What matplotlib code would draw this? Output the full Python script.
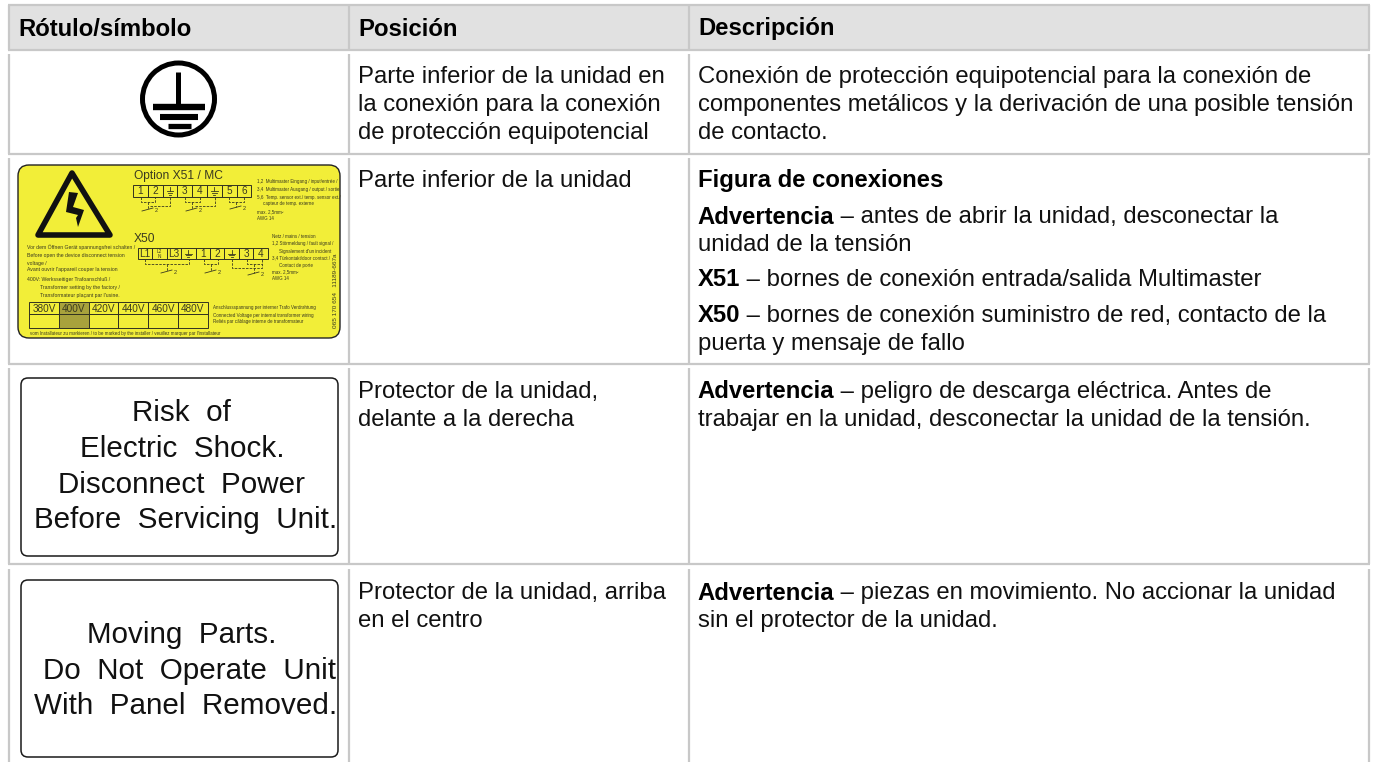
import matplotlib
matplotlib.use("Agg")
import matplotlib.pyplot as plt
from matplotlib import font_manager
from matplotlib.patches import Rectangle, FancyBboxPatch, Circle, Polygon

plt.rcParams['font.family'] = ['Liberation Sans', 'DejaVu Sans']

# table text
headers = ["Rótulo/símbolo", "Posición", "Descripción"]
column_edges = [9, 349, 689, 1369]
row_tops = [5, 54, 158, 368, 569]
row_bottoms = [50, 154, 364, 564, 762]

positions = [
    ["Parte inferior de la unidad en", "la conexión para la conexión", "de protección equipotencial"],
    ["Parte inferior de la unidad"],
    ["Protector de la unidad,", "delante a la derecha"],
    ["Protector de la unidad, arriba", "en el centro"],
]
position_y = [77, 181, 392, 593]
# (bold part, rest, y of the line)
descriptions = [
    ("", "Conexión de protección equipotencial para la conexión de", 77),
    ("", "componentes metálicos y la derivación de una posible tensión", 105),
    ("", "de contacto.", 133),
    ("Figura de conexiones", "", 181),
    ("Advertencia", " – antes de abrir la unidad, desconectar la", 217),
    ("", "unidad de la tensión", 245),
    ("X51", " – bornes de conexión entrada/salida Multimaster", 280),
    ("X50", " – bornes de conexión suministro de red, contacto de la", 316),
    ("", "puerta y mensaje de fallo", 344),
    ("Advertencia", " – peligro de descarga eléctrica. Antes de", 392),
    ("", "trabajar en la unidad, desconectar la unidad de la tensión.", 420),
    ("Advertencia", " – piezas en movimiento. No accionar la unidad", 593),
    ("", "sin el protector de la unidad.", 621),
]

label1_lines = ["Risk  of", "Electric  Shock.", "Disconnect  Power", "Before  Servicing  Unit."]
label1_x = [181, 182, 182, 186]
label1_y = [413, 449, 485, 520]
label2_lines = ["Moving  Parts.", "Do  Not  Operate  Unit", "With  Panel  Removed."]
label2_x = [182, 190, 186]
label2_y = [635, 671, 706]

voltages = ["380V", "400V", "420V", "440V", "460V", "480V"]
x51_terms = ["1", "2", "earth", "3", "4", "earth", "5", "6"]
x50_terms = ["L1", "L2\nN", "L3", "earth", "1", "2", "earth", "3", "4"]

left_notes = [(27, 247, "Vor dem Öffnen Gerät spannungsfrei schalten /"),
              (27, 255, "Before open the device disconnect tension"),
              (27, 263, "voltage /"),
              (27, 270, "Avant ouvrir l'appareil couper la tension"),
              (27, 279, "400V: Werksseitiger Trafoanschluß /"),
              (40, 287, "Transformer setting by the factory /"),
              (40, 295, "Transformateur plaçant par l'usine.")]
right_notes = [(257, 182, "1,2  Multimaster Eingang / input/entrée /"),
               (257, 189, "3,4  Multimaster Ausgang / output / sortie"),
               (257, 197, "5,6  Temp. sensor ext./ temp. sensor ext./"),
               (263, 204, "capteur de temp. externe"),
               (257, 212, "max. 2,5mm²"), (257, 218, "AWG 14"),
               (272, 237, "Netz / mains / tension"),
               (272, 244, "1,2 Störmeldung / fault signal /"),
               (279, 251, "Signalement d'un incident"),
               (272, 258, "3,4 Türkontakt/door contact /"),
               (279, 265, "Contact de porte"),
               (272, 272, "max. 2,5mm²"), (272, 278, "AWG 14"),
               (213, 308, "Anschlussspannung per interner Trafo Verdrahtung"),
               (213, 315, "Connected Voltage per internal transformer wiring"),
               (213, 321, "Reliés par câblage interne de transformateur")]

grid = "#c8c8c8"
body = 17.2
yellow = "#f2ee38"
small = "#3a3a20"

# sticker text is condensed, use the narrow face when it is there
names = {f.name for f in font_manager.fontManager.ttflist}
narrow = "Liberation Sans Narrow" if "Liberation Sans Narrow" in names else "Liberation Sans"
k = 1.0 if narrow != "Liberation Sans" else 0.82

fig = plt.figure(figsize=(13.75, 7.62), dpi=100)
ax = fig.add_axes([0, 0, 1, 1])
ax.set_xlim(0, 1375)
ax.set_ylim(762, 0)
ax.axis("off")

# header band and grid
ax.add_patch(Rectangle((column_edges[0], row_tops[0]), column_edges[-1] - column_edges[0],
                       row_bottoms[0] - row_tops[0], fc="#e1e1e1", ec="none"))
for top, bottom in zip(row_tops, row_bottoms):
    for x in column_edges:
        ax.plot([x, x], [top, bottom], color=grid, lw=1.6, solid_capstyle="butt")
    if bottom < 762:
        ax.plot([column_edges[0] - 1, column_edges[-1] + 1], [bottom, bottom], color=grid, lw=1.6,
                solid_capstyle="butt")
ax.plot([column_edges[0] - 1, column_edges[-1] + 1], [row_tops[0], row_tops[0]], color=grid, lw=1.6,
        solid_capstyle="butt")

for h, x in zip(headers, column_edges):
    ax.text(x + 9, 29, h, fontsize=body, fontweight="bold", va="center", color="black")

# position column
for lines, y0 in zip(positions, position_y):
    for i, line in enumerate(lines):
        ax.text(358, y0 + i * 28, line, fontsize=body, va="center", color="#111111")

# description column, bold lead then normal text
renderer = fig.canvas.get_renderer()
for bold, rest, y in descriptions:
    x = 698
    if bold:
        t = ax.text(x - 1 if bold[0] == "A" else x, y, bold, fontsize=body, fontweight="bold",
                    va="center", color="black")
        x = ax.transData.inverted().transform(t.get_window_extent(renderer))[1][0]
    if rest:
        ax.text(x, y, rest, fontsize=body, va="center", color="#111111")

# earth symbol
ax.add_patch(Circle((178.5, 99), 36, fc="white", ec="black", lw=3.6))
ax.plot([178.5, 178.5], [72, 107], color="black", lw=3.6, solid_capstyle="butt")
ax.plot([153, 205], [107, 107], color="black", lw=4.6, solid_capstyle="butt")
ax.plot([160, 198], [117, 117], color="black", lw=4.4, solid_capstyle="butt")
ax.plot([168, 191], [126, 126], color="black", lw=3.8, solid_capstyle="butt")

# yellow sticker
ax.add_patch(FancyBboxPatch((18, 165), 322, 173, boxstyle="round,pad=0,rounding_size=11",
                            fc=yellow, ec="#222222", lw=1))
ax.add_patch(Polygon([[72, 173], [110, 235], [38, 235]], closed=True, fc=yellow,
                     ec="#111111", lw=4, joinstyle="round"))
ax.add_patch(Polygon([[69, 192], [78, 193], [73, 207], [84, 210], [78, 227], [76, 218], [78, 215], [66, 212]],
                     closed=True, fc="#111111", ec="none"))
ax.text(134, 176, "Option X51 / MC", fontsize=10.5 * k, va="center", color=small, family=narrow)
ax.text(134, 239, "X50", fontsize=10.5 * k, va="center", color=small, family=narrow)


def earth(cx, cy, s=1.0):
    # no installed font has this sign
    ax.plot([cx, cx], [cy - 4 * s, cy], color=small, lw=0.6)
    for dy, half in [(0, 3.4), (1.8, 2.2), (3.6, 1.1)]:
        ax.plot([cx - half * s, cx + half * s], [cy + dy * s, cy + dy * s], color=small, lw=0.6)


def terminals(terms, left, top, w, h):
    for i, term in enumerate(terms):
        ax.add_patch(Rectangle((left + i * w, top), w, h, fc="none", ec="#333320", lw=0.7))
        cx = left + (i + 0.5) * w
        if term == "earth":
            earth(cx, top + h / 2)
        else:
            ax.text(cx, top + h / 2 + 0.5, term, fontsize=(4.2 if "\n" in term else 8.8) * k, ha="center",
                    va="center", color=small, family=narrow, linespacing=0.9)


terminals(x51_terms, 133, 185, 14.8, 12)
terminals(x50_terms, 138, 248, 14.4, 11)

# dashed wiring under the terminals
wires = [
    ([141, 141, 155, 155], [197, 202, 202, 197]),
    ([148, 148], [202, 209]),
    ([150, 170, 170], [206, 206, 197]),
    ([185, 185, 200, 200], [197, 202, 202, 197]),
    ([192, 192], [202, 209]),
    ([195, 215, 215], [206, 206, 197]),
    ([229, 229, 244, 244], [197, 202, 202, 197]),
    ([236, 236], [202, 207]),
    ([145, 145, 189, 189], [259, 264, 264, 259]),
    ([167, 167], [264, 271]),
    ([204, 204, 218, 218], [259, 264, 264, 259]),
    ([211, 211], [264, 271]),
    ([232, 232, 262, 262], [259, 268, 268, 259]),
    ([247, 247, 262], [259, 264, 264]),
    ([254, 254], [264, 273]),
]
for xs, ys in wires:
    ax.plot(xs, ys, color=small, lw=0.6, ls=(0, (3, 1.5)))
for x, y in [(148, 209), (192, 209), (236, 207), (167, 271), (211, 271), (254, 273)]:
    ax.plot([x - 6, x + 5], [y + 2, y - 1], color=small, lw=0.6)
    ax.text(x + 7, y + 2, "2", fontsize=5 * k, va="center", color=small, family=narrow)

for x, y, line in left_notes:
    ax.text(x, y, line, fontsize=4.5 * k, va="center", color=small, family=narrow)
for x, y, line in right_notes:
    ax.text(x, y, line, fontsize=4.0 * k, va="center", color=small, family=narrow)
ax.text(336, 291, "065 170 654   11189-667a", fontsize=5.6 * k, rotation=90, ha="center", va="center",
        color=small, family=narrow)
ax.text(30, 333, "vom Installateur zu markieren / to be marked by the installer / veuillez marquer par l'installateur",
        fontsize=4.0 * k, va="center", color=small, family=narrow)

for i, v in enumerate(voltages):
    x = 29 + i * 29.8
    ax.add_patch(Rectangle((x, 302), 29.8, 12, fc="#a8a23c" if i == 1 else "none", ec="#333320", lw=0.7))
    ax.add_patch(Rectangle((x, 314), 29.8, 14, fc="#a8a23c" if i == 1 else "none", ec="#333320", lw=0.7))
    ax.text(x + 14.9, 308.5, v, fontsize=8.8 * k, ha="center", va="center", color=small, family=narrow)

# the two white warning labels
for top, bottom, lines, xs, ys in [(378, 556, label1_lines, label1_x, label1_y),
                                   (580, 757, label2_lines, label2_x, label2_y)]:
    ax.add_patch(FancyBboxPatch((21, top), 317, bottom - top, boxstyle="round,pad=0,rounding_size=7",
                                fc="white", ec="#1a1a1a", lw=1.1))
    for line, x, y in zip(lines, xs, ys):
        ax.text(x, y, line, fontsize=21.3, ha="center", va="center", color="#111111")

fig.savefig("out.png", dpi=100, facecolor="white")
